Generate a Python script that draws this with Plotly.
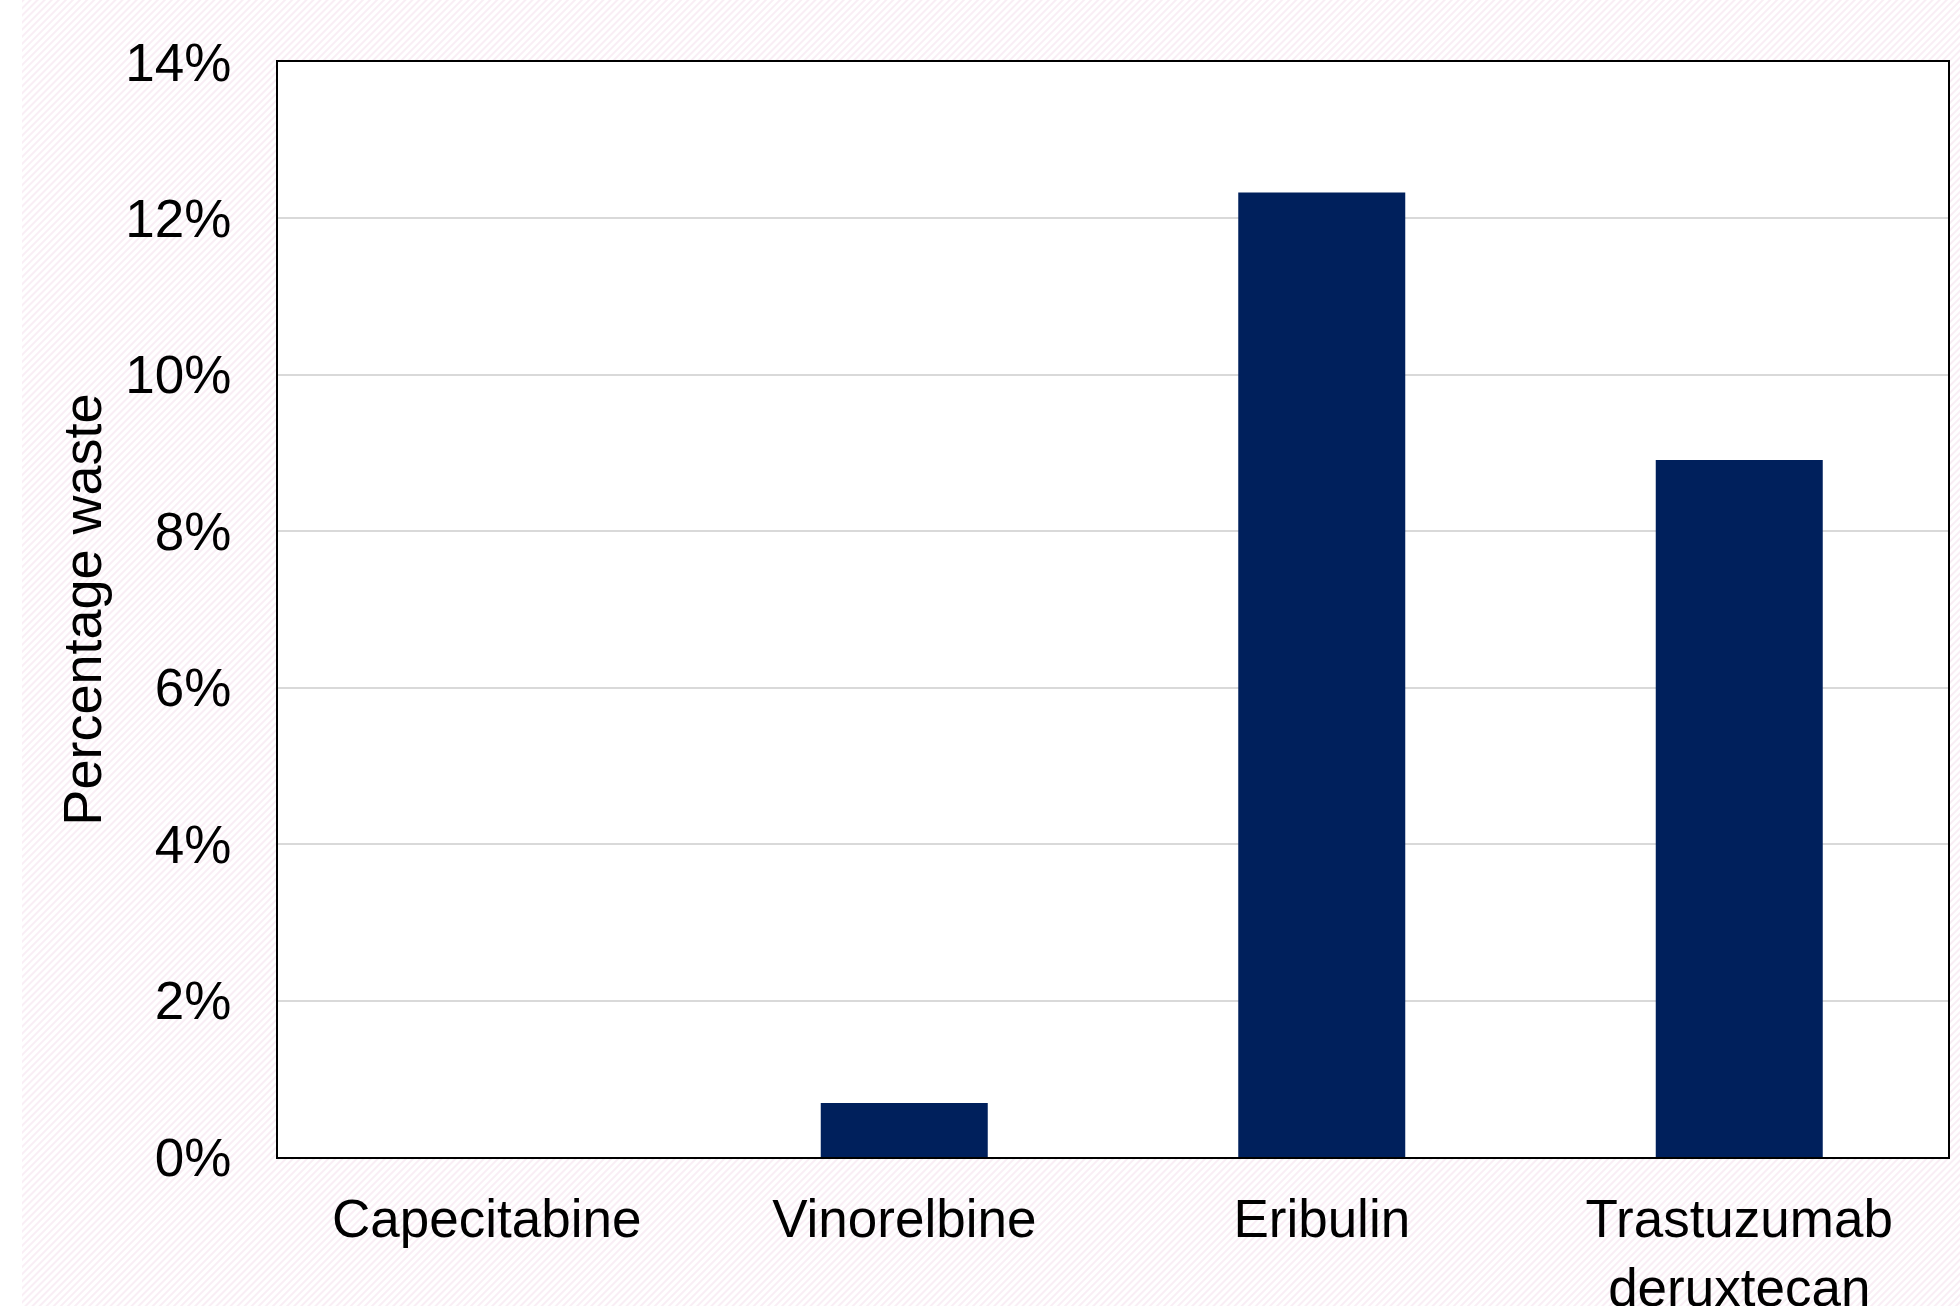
import base64
import plotly.graph_objects as go

# ---- data ----
drugs = ["Capecitabine", "Vinorelbine", "Eribulin", "Trastuzumab<br>deruxtecan"]
waste_pct = [0.0, 0.69, 12.33, 8.91]
y_ticks = [0, 2, 4, 6, 8, 10, 12, 14]
y_tick_labels = ["0%", "2%", "4%", "6%", "8%", "10%", "12%", "14%"]

W, H = 1960, 1306
L, R, T, B = 278, 12, 62, 149
pw, ph = W - L - R, H - T - B

# hatched page background as svg image
hx0 = 22
svg = f'''<svg xmlns="http://www.w3.org/2000/svg" width="{W-hx0}" height="{H}" viewBox="0 0 {W-hx0} {H}">
<defs><pattern id="p" patternUnits="userSpaceOnUse" width="5" height="5" patternTransform="rotate(45)">
<rect width="5" height="5" fill="#ffffff"/><line x1="1" y1="0" x2="1" y2="5" stroke="#f8e9f2" stroke-width="1.5"/></pattern></defs>
<rect width="{W-hx0}" height="{H}" fill="url(#p)"/></svg>'''
src = "data:image/svg+xml;base64," + base64.b64encode(svg.encode()).decode()

fig = go.Figure(go.Bar(x=drugs, y=waste_pct, marker=dict(color="#00205C", line=dict(width=0)),
                       width=0.4))

font = "Liberation Sans, Arial, sans-serif"
fig.update_layout(
    width=W, height=H,
    margin=dict(l=L, r=R, t=T, b=B, autoexpand=False),
    paper_bgcolor="#ffffff",
    plot_bgcolor="#ffffff",
    showlegend=False,
    font=dict(family=font, color="#000000", size=53),
    images=[dict(source=src, xref="paper", yref="paper",
                 x=(hx0 - L) / pw, y=(T + ph) / ph,
                 sizex=(W - hx0) / pw, sizey=H / ph, xanchor="left", yanchor="top",
                 sizing="stretch", layer="below")],
    shapes=[dict(type="rect", xref="x domain", yref="y domain", x0=0, x1=1, y0=0, y1=1,
                 fillcolor="#ffffff", line=dict(width=0), layer="below")],
)
fig.update_xaxes(showline=True, mirror=True, linecolor="#000000", linewidth=2,
                 showgrid=False, ticks="", tickfont=dict(size=53),
                 ticklabelstandoff=14)
fig.update_yaxes(range=[0, 14], tickvals=y_ticks, ticktext=y_tick_labels,
                 showline=True, mirror=True, linecolor="#000000", linewidth=2,
                 showgrid=True, gridcolor="#d9d9d9", gridwidth=2, zeroline=False,
                 ticks="", tickfont=dict(size=53), ticklabelstandoff=34,
                 title=dict(text="Percentage waste", font=dict(size=54), standoff=6))

fig.write_html("out.html")
